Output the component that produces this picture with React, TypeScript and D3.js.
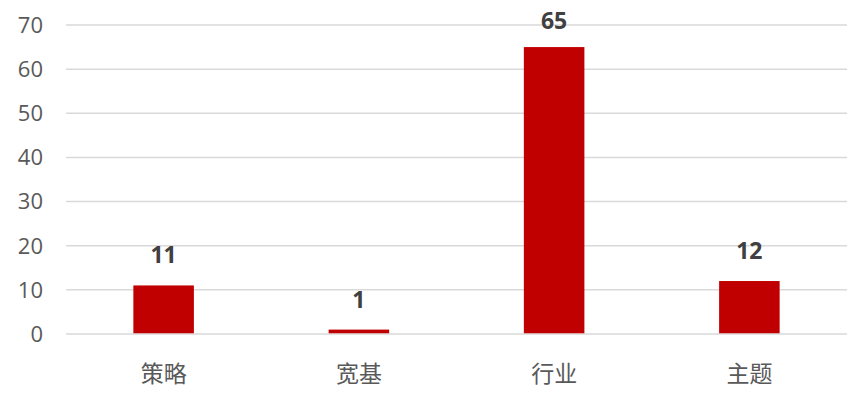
import React from 'react';
import * as d3 from 'd3';

const categories = ['策略', '宽基', '行业', '主题'];
const values = [11, 1, 65, 12];
const yTicks = [0, 10, 20, 30, 40, 50, 60, 70];

const WIDTH = 864;
const HEIGHT = 402;
const margin = { top: 25, right: 17, bottom: 68, left: 66 };
const FONT = '"Open Sans", "Noto Sans CJK SC", sans-serif';

const App: React.FC = () => {
  const x = d3.scaleBand<string>()
    .domain(categories)
    .range([margin.left, WIDTH - margin.right])
    .paddingInner(0.69)
    .paddingOuter(0.345);

  const y = d3.scaleLinear()
    .domain([0, 70])
    .range([HEIGHT - margin.bottom, margin.top]);

  return (
    <div style={{ position: 'absolute', left: 0, top: 0 }}>
      <svg width={WIDTH} height={HEIGHT} style={{ display: 'block', background: '#fff' }}>
        {/* gridlines + y labels */}
        {yTicks.map(t => (
          <g key={t}>
            <line
              x1={margin.left}
              x2={WIDTH - margin.right}
              y1={y(t)}
              y2={y(t)}
              stroke="#d9d9d9"
              strokeWidth={1.5}
            />
            <text
              x={43}
              y={y(t)}
              dy="0.36em"
              textAnchor="end"
              fill="#595959"
              fontSize={22}
              fontFamily={FONT}
            >
              {t}
            </text>
          </g>
        ))}

        {/* bars */}
        {categories.map((c, i) => (
          <rect
            key={c}
            x={x(c)}
            y={y(values[i])}
            width={x.bandwidth()}
            height={y(0) - y(values[i]) - 0.75}
            fill="#c00000"
          />
        ))}

        {/* value labels */}
        {categories.map((c, i) => (
          <text
            key={c}
            x={(x(c) ?? 0) + x.bandwidth() / 2}
            y={Math.max(y(values[i]) - 22, 29)}
            textAnchor="middle"
            fill="#404040"
            fontSize={23}
            fontWeight="bold"
            fontFamily={FONT}
          >
            {values[i]}
          </text>
        ))}

        {/* category labels */}
        {categories.map(c => (
          <text
            key={c}
            x={(x(c) ?? 0) + x.bandwidth() / 2}
            y={382}
            textAnchor="middle"
            fill="#595959"
            fontSize={23}
            fontFamily={FONT}
          >
            {c}
          </text>
        ))}
      </svg>
    </div>
  );
};

export default App;
